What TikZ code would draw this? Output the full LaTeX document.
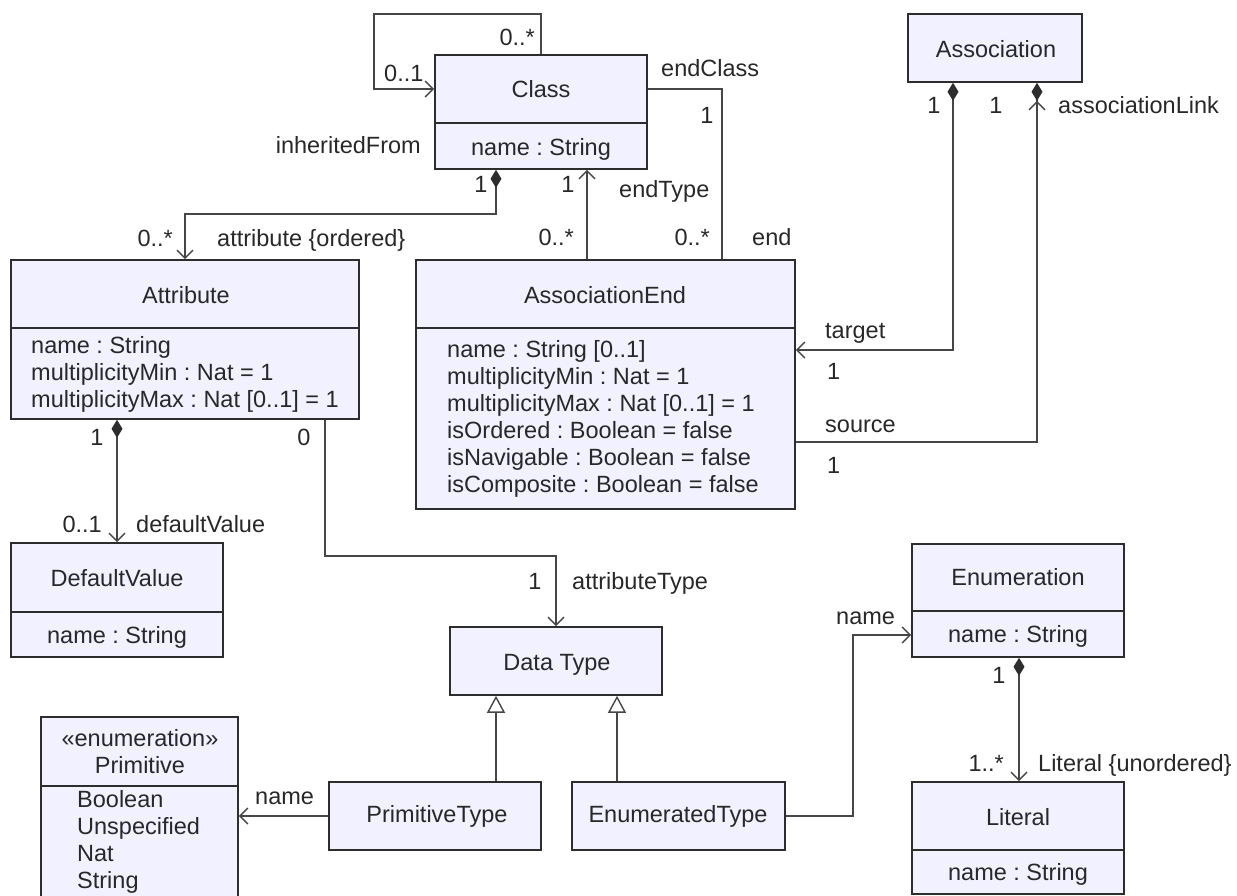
\documentclass[tikz,border=0pt]{standalone}
\usepackage{fontspec}
\setmainfont{Liberation Sans}
\usetikzlibrary{arrows.meta,fit}
\definecolor{boxfill}{RGB}{241,241,255}
\definecolor{boxline}{RGB}{45,45,45}
\definecolor{lnc}{RGB}{70,70,70}
\definecolor{txt}{RGB}{40,40,40}
\frenchspacing
\begin{document}
\begin{tikzpicture}[x=1pt,y=-1pt,
  box/.style={draw=boxline, fill=boxfill, line width=1.6pt, inner sep=0pt},
  divl/.style={draw=boxline, line width=1.6pt},
  lbl/.style={inner sep=0pt, text=txt, font=\fontsize{23.5}{27}\selectfont},
  conn/.style={draw=lnc, line width=1.4pt},
  assoc/.style={conn, -{Straight Barb[length=8pt,width=16pt]}},
  comp/.style={conn, {Diamond[length=18pt,width=11pt,fill=boxline,color=boxline]}-{Straight Barb[length=8pt,width=16pt]}},
  gen/.style={conn, -{Triangle[open,length=17pt,width=18pt,fill=white]}}
]
\useasboundingbox (0,0) rectangle (1237,895);
% ---------- boxes ----------
\node[box, fit={(435,55) (647,169)}] (cls) {};
\draw[divl] (435,123) -- (647,123);
\node[box, fit={(908,14) (1082,82)}] (asc) {};
\node[box, fit={(11,260) (359,419)}] (att) {};
\draw[divl] (11,328) -- (359,328);
\node[box, fit={(416,260) (795,509)}] (ae) {};
\draw[divl] (416,328) -- (795,328);
\node[box, fit={(11,543) (223,657)}] (dfv) {};
\draw[divl] (11,612) -- (223,612);
\node[box, fit={(450,627) (662,695)}] (dt) {};
\node[box, fit={(41,717) (238,910)}] (prim) {};
\draw[divl] (41,786) -- (238,786);
\node[box, fit={(329,782) (541,850)}] (pt) {};
\node[box, fit={(572,782) (785,850)}] (et) {};
\node[box, fit={(912,544) (1124,657)}] (enm) {};
\draw[divl] (912,611) -- (1124,611);
\node[box, fit={(912,782) (1124,894)}] (lit) {};
\draw[divl] (912,850) -- (1124,850);
% ---------- box texts ----------
\node[lbl, anchor=base] (clsT) at (541,97) {Class};
\node[lbl, anchor=base] (clsA) at (541,155) {name : String};
\node[lbl, anchor=base] (ascT) at (996,57) {Association};
\node[lbl, anchor=base] (attT) at (186,303) {Attribute};
\foreach \t [count=\i from 0] in {{name : String},{multiplicityMin : Nat = 1},{multiplicityMax : Nat [0..1] = 1}}
  \node[lbl, anchor=base west] (attA\i) at (31,353+27*\i) {\t};
\node[lbl, anchor=base] (aeT) at (605,303) {AssociationEnd};
\foreach \t [count=\i from 0] in {{name : String [0..1]},{multiplicityMin : Nat = 1},{multiplicityMax : Nat [0..1] = 1},{isOrdered : Boolean = false},{isNavigable : Boolean = false},{isComposite : Boolean = false}}
  \node[lbl, anchor=base west] (aeA\i) at (447,357+27*\i) {\t};
\node[lbl, anchor=base] (dfvT) at (117,586) {DefaultValue};
\node[lbl, anchor=base] (dfvA) at (117,643) {name : String};
\node[lbl, anchor=base] (dtT) at (557,670) {Data Type};
\node[lbl, anchor=base] (primS) at (140,746) {«enumeration»};
\node[lbl, anchor=base] (primT) at (140,773) {Primitive};
\foreach \t [count=\i from 0] in {Boolean,Unspecified,Nat,String}
  \node[lbl, anchor=base west] (primA\i) at (77,807+27*\i) {\t};
\node[lbl, anchor=base] (ptT) at (437,822) {PrimitiveType};
\node[lbl, anchor=base] (etT) at (678,822) {EnumeratedType};
\node[lbl, anchor=base] (enmT) at (1018,585) {Enumeration};
\node[lbl, anchor=base] (enmA) at (1018,642) {name : String};
\node[lbl, anchor=base] (litT) at (1018,825) {Literal};
\node[lbl, anchor=base] (litA) at (1018,880) {name : String};
% ---------- helper coordinates ----------
\coordinate (sl1) at (541,14);
\coordinate (sl2) at (374,89);
\coordinate (ec) at (722,0);
\coordinate (etx) at (587,0);
\coordinate (cpx) at (496,0);
\coordinate (cp1) at (185,214);
\coordinate (dvx) at (117,0);
\coordinate (at1) at (325,556);
\coordinate (at2) at (556,556);
\coordinate (tg) at (953,350);
\coordinate (sr) at (1037,442);
\coordinate (g1) at (496,0);
\coordinate (g2) at (617,0);
\coordinate (en1) at (853,635);
\coordinate (lx) at (1019,0);
% ---------- connectors ----------
\draw[assoc] (cls.north -| sl1) -- (sl1) -| (sl2) -- (cls.west |- sl2);
\draw[conn] (cls.east |- sl2) -| (ae.north -| ec);
\draw[assoc] (ae.north -| etx) -- (cls.south -| etx);
\draw[comp] (cls.south -| cpx) |- (cp1) -- (att.north -| cp1);
\draw[comp] (att.south -| dvx) -- (dfv.north -| dvx);
\draw[assoc] (att.south -| at1) |- (at2) -- (dt.north -| at2);
\draw[comp] (asc.south -| tg) |- (ae.east |- tg);
\draw[conn, {Diamond[length=18pt,width=11pt,fill=boxline,color=boxline] Straight Barb[length=8pt,width=16pt]}-] (asc.south -| sr) |- (ae.east |- sr);
\draw[gen] (pt.north -| g1) -- (dt.south -| g1);
\draw[gen] (et.north -| g2) -- (dt.south -| g2);
\draw[assoc] (pt.west) -- (prim.east |- pt.west);
\draw[assoc] (et.east) -| (en1) -- (enm.west |- en1);
\draw[comp] (enm.south -| lx) -- (lit.north -| lx);
% ---------- connector labels ----------
\node[lbl, anchor=base east] (l1) at (535,45) {0..*};
\node[lbl, anchor=base west] (l2) at (384,81) {0..1};
\node[lbl, anchor=base west] (l3) at (661,76) {endClass};
\node[lbl, anchor=base] (l4) at (707,123) {1};
\node[lbl, anchor=base east] (l5) at (421,153) {inheritedFrom};
\node[lbl, anchor=base] (l6) at (481,192) {1};
\node[lbl, anchor=base] (l7) at (568,192) {1};
\node[lbl, anchor=base west] (l8) at (619,197) {endType};
\node[lbl, anchor=base east] (l9) at (574,245) {0..*};
\node[lbl, anchor=base east] (l10) at (710,245) {0..*};
\node[lbl, anchor=base west] (l11) at (752,245) {end};
\node[lbl, anchor=base east] (l12) at (173,246) {0..*};
\node[lbl, anchor=base west] (l13) at (217,246) {attribute \{ordered\}};
\node[lbl, anchor=base] (l14) at (97,445) {1};
\node[lbl, anchor=base] (l15) at (304,445) {0};
\node[lbl, anchor=base east] (l16) at (102,532) {0..1};
\node[lbl, anchor=base west] (l17) at (136,532) {defaultValue};
\node[lbl, anchor=base] (l18) at (535,589) {1};
\node[lbl, anchor=base west] (l19) at (572,589) {attributeType};
\node[lbl, anchor=base] (l20) at (934,113) {1};
\node[lbl, anchor=base] (l21) at (996,113) {1};
\node[lbl, anchor=base west] (l22) at (1058,113) {associationLink};
\node[lbl, anchor=base west] (l23) at (825,338) {target};
\node[lbl, anchor=base west] (l24) at (827,379) {1};
\node[lbl, anchor=base west] (l25) at (825,432) {source};
\node[lbl, anchor=base west] (l26) at (827,473) {1};
\node[lbl, anchor=base west] (l27) at (255,804) {name};
\node[lbl, anchor=base west] (l28) at (836,624) {name};
\node[lbl, anchor=base] (l29) at (999,683) {1};
\node[lbl, anchor=base east] (l30) at (1004,771) {1..*};
\node[lbl, anchor=base west] (l31) at (1038,771) {Literal \{unordered\}};
\end{tikzpicture}
\end{document}
